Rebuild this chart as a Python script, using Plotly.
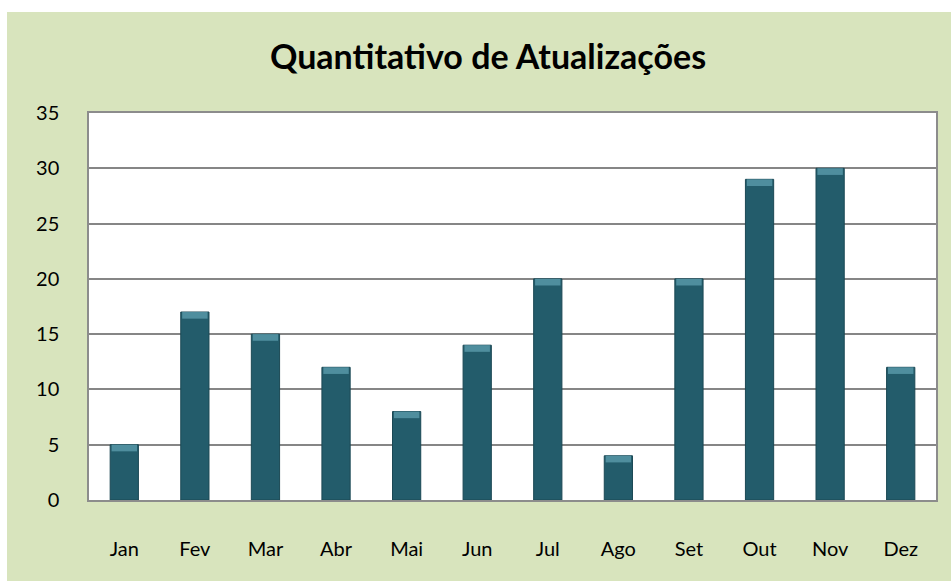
import plotly.graph_objects as go

months = ["Jan", "Fev", "Mar", "Abr", "Mai", "Jun", "Jul", "Ago", "Set", "Out", "Nov", "Dez"]
values = [5, 17, 15, 12, 8, 14, 20, 4, 20, 29, 30, 12]
y_ticks = [0, 5, 10, 15, 20, 25, 30, 35]

W, H = 951, 581
L, R, T, B = 89, 936, 113, 500

cap = 0.6
fig = go.Figure()
fig.add_trace(go.Bar(
    x=months, y=values,
    marker=dict(color="#235c6b", line=dict(color="#1b4854", width=1)),
    width=0.4, hoverinfo="x+y",
))
fig.add_trace(go.Bar(
    x=months, y=[cap] * len(values), base=[v - cap for v in values],
    marker=dict(color="#4f8e9e", line=dict(width=0)),
    width=0.36, hoverinfo="skip",
))

pw, ph = R - L, B - T
def px_to_paper_x(px):
    return (px - L) / pw
def py_to_paper_y(py):
    return (B - py) / ph

fig.update_layout(
    width=W, height=H,
    margin=dict(l=L, r=W - R, t=T, b=H - B),
    paper_bgcolor="#d8e4bd",
    plot_bgcolor="#ffffff",
    barmode="overlay",
    showlegend=False,
    font=dict(family="Lato, Open Sans, sans-serif", size=20, color="#000000"),
    title=dict(text="<b>Quantitativo de Atualizações</b>", x=488 / W, xanchor="center",
               xref="container", y=1 - 57 / H, yref="container", yanchor="middle",
               font=dict(size=34, color="#000000")),
    xaxis=dict(showgrid=False, showline=True, mirror=True, linecolor="#8c8c8c", linewidth=1.5,
               ticks="", ticklabelstandoff=30, range=[-0.5, 11.5]),
    yaxis=dict(range=[0, 35], tickvals=y_ticks, showgrid=True, gridcolor="#868686", gridwidth=1.5,
               showline=True, mirror=True, linecolor="#8c8c8c", linewidth=1.5, zeroline=False,
               ticks="", ticklabelstandoff=24),
    shapes=[
        dict(type="rect", xref="paper", yref="paper", layer="below",
             x0=px_to_paper_x(-5), x1=px_to_paper_x(7), y0=py_to_paper_y(H + 5), y1=py_to_paper_y(-5),
             fillcolor="#ffffff", line=dict(width=0)),
        dict(type="rect", xref="paper", yref="paper", layer="below",
             x0=px_to_paper_x(-5), x1=px_to_paper_x(W + 5), y0=py_to_paper_y(12), y1=py_to_paper_y(-5),
             fillcolor="#ffffff", line=dict(width=0)),
    ],
)

fig.write_html("out.html", config={"displayModeBar": False},
               post_script="document.body.style.margin='0';document.body.style.overflow='hidden';")
